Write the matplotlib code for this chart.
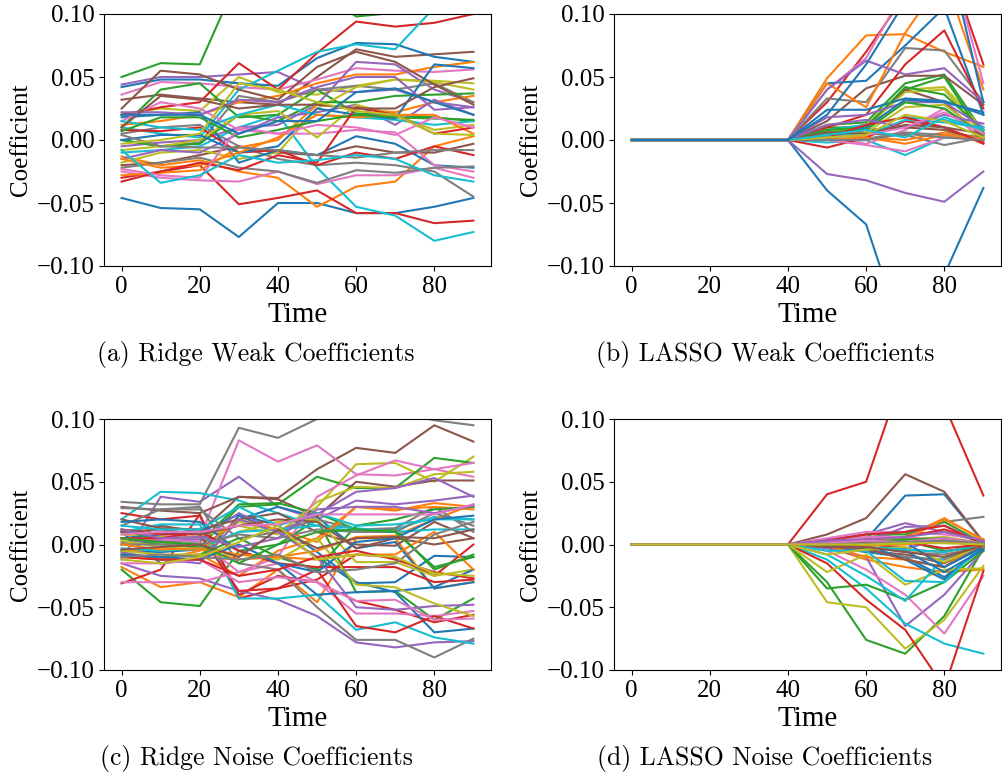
import numpy as np
import matplotlib
matplotlib.use("Agg")
import matplotlib.pyplot as plt

# coefficient paths recorded every 10 time steps
TIME = [0, 10, 20, 30, 40, 50, 60, 70, 80, 90]

RIDGE_WEAK = [
    [-0.046, -0.054, -0.055, -0.077, -0.050, -0.050, -0.058, -0.058, -0.053, -0.046],
    [-0.013, -0.020, -0.016, -0.025, -0.030, -0.053, -0.037, -0.033, -0.005, 0.003],
    [0.050, 0.061, 0.060, 0.130, 0.140, 0.120, 0.098, 0.101, 0.110, 0.120],
    [-0.030, -0.025, -0.020, -0.051, -0.046, -0.040, -0.058, -0.058, -0.066, -0.064],
    [0.044, 0.050, 0.050, 0.052, 0.054, 0.040, 0.038, 0.040, 0.030, 0.026],
    [0.032, 0.036, 0.033, 0.030, 0.028, 0.050, 0.072, 0.066, 0.068, 0.070],
    [0.036, 0.046, 0.045, 0.042, 0.040, 0.048, 0.057, 0.055, 0.054, 0.056],
    [0.005, 0.010, 0.012, -0.005, -0.015, -0.020, -0.018, -0.020, -0.025, -0.045],
    [0.020, 0.025, 0.023, 0.050, 0.038, 0.036, 0.043, 0.048, 0.047, 0.045],
    [-0.010, -0.008, -0.005, 0.010, 0.020, -0.022, -0.053, -0.060, -0.080, -0.073],
    [0.042, 0.048, 0.048, 0.045, 0.043, 0.065, 0.077, 0.076, 0.066, 0.062],
    [0.012, 0.015, 0.020, 0.030, 0.035, 0.045, 0.052, 0.052, 0.058, 0.062],
    [0.010, 0.040, 0.045, 0.018, 0.020, 0.040, 0.021, 0.020, 0.018, 0.015],
    [0.020, 0.026, 0.030, 0.061, 0.040, 0.069, 0.094, 0.090, 0.093, 0.100],
    [-0.005, -0.002, 0.000, 0.010, 0.012, 0.028, 0.062, 0.060, 0.040, 0.030],
    [-0.020, -0.018, -0.012, -0.005, -0.010, -0.012, -0.005, -0.010, -0.010, -0.003],
    [-0.025, -0.030, -0.032, -0.033, -0.025, -0.035, -0.028, -0.028, -0.022, -0.030],
    [0.000, -0.005, -0.002, 0.035, 0.030, 0.040, 0.043, 0.040, 0.045, 0.030],
    [-0.018, -0.010, -0.008, -0.015, -0.010, 0.025, 0.042, 0.048, 0.046, 0.040],
    [0.010, 0.005, 0.002, 0.040, 0.055, 0.070, 0.076, 0.072, 0.105, 0.115],
    [0.018, 0.020, 0.022, -0.018, -0.008, -0.012, 0.003, -0.003, -0.020, -0.022],
    [-0.028, -0.026, -0.024, -0.006, 0.000, 0.028, 0.025, 0.022, 0.030, 0.035],
    [0.000, -0.005, -0.003, 0.020, 0.015, 0.030, 0.030, 0.035, 0.036, 0.037],
    [0.008, 0.007, 0.010, -0.010, -0.008, -0.020, -0.010, -0.015, -0.005, -0.012],
    [-0.015, -0.008, -0.010, 0.005, 0.018, 0.022, 0.028, 0.012, 0.032, 0.020],
    [0.025, 0.055, 0.052, 0.040, 0.032, 0.058, 0.070, 0.062, 0.044, 0.028],
    [0.015, 0.030, 0.025, 0.008, 0.005, 0.005, 0.008, 0.006, -0.020, -0.025],
    [-0.022, -0.018, -0.014, -0.022, -0.025, -0.034, -0.024, -0.026, -0.022, -0.021],
    [-0.008, -0.005, 0.000, 0.020, 0.023, 0.002, 0.028, 0.020, 0.008, 0.012],
    [0.015, 0.010, 0.008, 0.020, 0.028, 0.020, 0.018, 0.016, 0.012, 0.015],
    [0.000, 0.004, 0.004, -0.010, -0.005, 0.025, 0.020, 0.017, 0.060, 0.057],
    [-0.015, -0.022, -0.020, -0.010, 0.002, 0.020, 0.018, 0.020, 0.020, 0.005],
    [0.007, 0.018, 0.018, 0.002, 0.008, 0.015, 0.020, 0.018, 0.017, 0.016],
    [-0.033, -0.025, -0.018, -0.024, -0.012, -0.018, 0.026, 0.020, 0.005, 0.010],
    [0.022, 0.022, 0.020, 0.032, 0.030, 0.042, 0.050, 0.050, 0.024, 0.026],
    [0.010, 0.035, 0.032, 0.025, 0.028, 0.028, 0.025, 0.025, 0.042, 0.049],
    [-0.023, -0.028, -0.030, 0.010, 0.005, 0.012, 0.010, 0.004, 0.018, 0.010],
    [0.004, -0.005, -0.006, -0.006, -0.008, -0.012, -0.014, -0.010, -0.008, -0.008],
    [-0.003, 0.000, 0.005, 0.045, 0.040, 0.030, 0.023, 0.020, 0.005, 0.004],
    [-0.008, -0.034, -0.028, -0.012, -0.018, -0.016, -0.012, -0.015, -0.028, -0.033],
    [0.020, 0.020, 0.020, 0.005, 0.015, 0.015, 0.038, 0.041, 0.030, 0.020],
]

RIDGE_NOISE = [
    [0.010, -0.015, -0.012, 0.023, 0.010, -0.010, -0.031, -0.030, -0.009, -0.010],
    [-0.018, -0.034, -0.030, -0.042, -0.020, -0.046, 0.005, 0.005, -0.035, -0.030],
    [-0.020, -0.046, -0.049, -0.005, 0.000, 0.020, -0.038, -0.037, -0.060, -0.043],
    [-0.031, -0.020, 0.024, -0.043, -0.035, -0.028, -0.008, -0.010, -0.025, 0.000],
    [-0.012, 0.038, 0.034, 0.054, 0.030, 0.020, 0.035, 0.032, 0.035, 0.039],
    [0.000, 0.015, 0.010, 0.038, 0.037, 0.060, 0.077, 0.073, 0.095, 0.082],
    [0.010, 0.005, 0.005, 0.083, 0.066, 0.079, 0.056, 0.055, 0.060, 0.054],
    [0.034, 0.032, 0.032, 0.093, 0.085, 0.100, 0.105, 0.105, 0.099, 0.095],
    [0.000, 0.002, -0.003, 0.018, 0.010, 0.030, 0.064, 0.065, 0.050, 0.070],
    [0.020, 0.042, 0.041, 0.035, 0.025, 0.015, 0.010, 0.012, 0.022, 0.020],
    [-0.005, -0.006, -0.004, 0.020, 0.030, 0.022, -0.003, 0.002, -0.035, -0.030],
    [-0.008, -0.010, -0.008, -0.025, -0.005, 0.005, 0.030, 0.027, 0.033, 0.030],
    [0.005, 0.000, -0.002, 0.030, 0.032, 0.054, 0.045, 0.045, 0.069, 0.065],
    [0.025, 0.020, 0.023, -0.040, -0.025, -0.030, -0.045, -0.052, -0.062, -0.056],
    [-0.015, -0.025, -0.027, -0.037, -0.044, -0.057, -0.078, -0.082, -0.078, -0.077],
    [0.030, 0.027, 0.025, 0.038, 0.036, 0.022, 0.050, 0.046, 0.051, 0.051],
    [-0.030, -0.030, -0.030, -0.022, -0.015, -0.030, -0.055, -0.055, -0.057, -0.053],
    [0.015, 0.028, 0.030, -0.015, -0.020, -0.050, -0.076, -0.076, -0.090, -0.075],
    [0.008, 0.006, 0.006, 0.015, 0.008, 0.034, 0.046, 0.045, 0.056, 0.058],
    [0.010, 0.016, 0.016, -0.043, -0.043, -0.040, -0.068, -0.062, -0.074, -0.079],
    [0.005, 0.008, 0.010, 0.024, 0.015, -0.006, -0.030, -0.038, -0.070, -0.067],
    [-0.005, -0.004, -0.004, -0.012, -0.010, -0.005, 0.006, 0.007, 0.020, 0.032],
    [0.012, 0.003, 0.002, 0.032, 0.033, 0.025, 0.012, 0.012, -0.020, -0.008],
    [0.012, 0.008, 0.008, -0.037, -0.035, -0.020, -0.065, -0.070, -0.057, -0.067],
    [0.002, 0.003, 0.004, 0.025, 0.010, 0.024, 0.042, 0.045, 0.053, 0.038],
    [0.020, 0.013, 0.012, 0.020, 0.025, 0.010, 0.000, -0.001, 0.018, 0.005],
    [0.005, 0.004, 0.002, -0.022, -0.010, 0.038, 0.055, 0.067, 0.060, 0.065],
    [0.029, 0.028, 0.028, 0.005, 0.010, 0.020, 0.012, 0.013, 0.030, 0.010],
    [0.003, -0.002, -0.004, 0.010, 0.018, 0.020, -0.014, -0.014, -0.025, -0.020],
    [-0.003, -0.005, -0.003, 0.010, 0.012, 0.015, 0.013, 0.010, 0.012, 0.012],
    [0.018, 0.020, 0.018, -0.005, -0.015, -0.040, -0.038, -0.037, -0.034, -0.020],
    [-0.010, -0.012, -0.005, 0.020, 0.012, 0.002, 0.030, 0.028, 0.030, 0.028],
    [-0.008, -0.010, -0.008, 0.005, -0.010, -0.020, 0.015, 0.020, 0.028, 0.030],
    [0.005, 0.005, 0.010, -0.005, -0.015, -0.018, -0.018, -0.018, -0.030, -0.028],
    [-0.006, -0.012, -0.015, 0.020, 0.010, -0.010, -0.050, -0.052, -0.049, -0.048],
    [0.010, 0.012, 0.008, 0.015, 0.020, 0.018, -0.003, 0.005, 0.000, 0.005],
    [-0.015, -0.015, -0.012, -0.030, -0.026, -0.030, -0.045, -0.044, -0.060, -0.059],
    [0.000, 0.000, 0.000, 0.008, 0.005, 0.012, 0.010, 0.010, 0.025, 0.015],
    [-0.005, -0.008, -0.008, -0.008, -0.012, 0.005, -0.032, -0.034, -0.047, -0.057],
    [0.015, 0.012, 0.012, 0.030, 0.015, 0.025, 0.015, 0.016, 0.020, 0.020],
    [-0.008, -0.010, -0.012, 0.000, -0.015, -0.022, 0.002, 0.005, 0.020, 0.023],
    [0.000, -0.004, -0.003, -0.008, -0.010, -0.012, -0.008, -0.008, 0.010, -0.020],
    [0.005, 0.002, 0.000, -0.015, 0.000, 0.010, 0.012, 0.010, -0.018, -0.010],
    [-0.010, -0.012, -0.012, -0.025, -0.020, -0.010, -0.005, -0.012, -0.022, -0.027],
    [0.012, 0.005, 0.006, -0.002, 0.005, 0.028, 0.030, 0.030, 0.025, 0.031],
    [-0.004, -0.002, 0.000, -0.010, 0.012, -0.003, 0.005, 0.006, 0.005, 0.012],
    [0.008, 0.010, 0.010, 0.015, 0.016, 0.024, 0.024, 0.024, 0.024, 0.032],
    [-0.010, -0.008, -0.010, -0.012, -0.008, -0.022, -0.020, -0.015, 0.008, 0.018],
    [-0.012, -0.015, -0.010, 0.002, 0.015, -0.012, -0.008, -0.010, -0.023, -0.025],
]

# LASSO keeps every coefficient at exactly zero up to t = 40;
# only the values for t = 50 .. 90 are listed here
LASSO_ZERO_STEPS = 5

LASSO_WEAK_TAIL = [
    [-0.040, -0.067, -0.161, -0.107, -0.038],
    [0.049, 0.083, 0.084, 0.070, 0.058],
    [0.012, 0.014, 0.045, 0.052, 0.006],
    [0.030, 0.070, 0.115, 0.150, 0.060],
    [-0.027, -0.032, -0.042, -0.049, -0.025],
    [0.015, 0.041, 0.051, 0.051, 0.028],
    [0.040, 0.065, 0.120, 0.160, 0.045],
    [0.033, 0.030, 0.073, 0.071, 0.030],
    [0.008, 0.012, 0.040, 0.042, 0.008],
    [-0.002, 0.000, -0.012, 0.002, 0.004],
    [0.045, 0.047, 0.075, 0.105, 0.020],
    [0.045, 0.026, 0.085, 0.130, 0.040],
    [0.010, 0.010, 0.040, 0.050, 0.002],
    [0.010, 0.020, 0.060, 0.087, 0.025],
    [0.040, 0.063, 0.052, 0.057, 0.030],
    [0.003, 0.010, 0.040, 0.030, 0.002],
    [0.002, -0.003, 0.008, 0.025, 0.000],
    [0.002, 0.005, 0.004, -0.004, 0.002],
    [0.006, 0.010, 0.038, 0.040, 0.004],
    [0.008, 0.012, 0.018, 0.016, 0.008],
    [0.024, 0.024, 0.033, 0.031, 0.020],
    [0.004, 0.002, 0.000, 0.006, 0.002],
    [0.008, 0.010, 0.042, 0.036, 0.008],
    [-0.006, 0.002, 0.015, 0.010, -0.003],
    [0.018, 0.020, 0.030, 0.030, 0.010],
    [0.003, 0.008, 0.010, 0.008, 0.000],
    [0.000, -0.004, -0.009, 0.002, 0.001],
    [0.001, 0.001, 0.006, 0.004, 0.002],
    [0.004, 0.006, 0.026, 0.028, 0.005],
    [0.005, 0.004, 0.016, 0.014, 0.010],
    [0.002, 0.010, 0.032, 0.030, 0.022],
    [0.000, 0.002, -0.003, 0.004, 0.001],
    [0.006, 0.008, 0.030, 0.025, 0.004],
    [0.002, 0.012, 0.018, 0.010, -0.002],
    [0.012, 0.016, 0.010, 0.020, 0.013],
    [0.006, 0.005, 0.012, 0.010, 0.005],
    [0.002, 0.004, 0.010, 0.022, 0.005],
    [0.000, 0.000, 0.005, 0.002, 0.000],
    [0.002, 0.004, 0.020, 0.015, 0.002],
    [0.004, 0.008, 0.002, 0.018, 0.008],
    [0.020, 0.060, 0.110, 0.160, 0.030],
]

LASSO_NOISE_TAIL = [
    [0.003, 0.004, 0.039, 0.040, 0.002],
    [-0.002, -0.012, -0.018, -0.022, -0.020],
    [-0.030, -0.076, -0.087, -0.057, -0.003],
    [0.040, 0.050, 0.141, 0.111, 0.039],
    [-0.003, -0.010, -0.065, -0.040, -0.005],
    [0.008, 0.021, 0.056, 0.042, 0.002],
    [-0.005, -0.020, -0.040, -0.071, -0.025],
    [0.002, 0.005, 0.010, 0.018, 0.022],
    [-0.046, -0.050, -0.083, -0.060, -0.017],
    [-0.012, -0.035, -0.063, -0.079, -0.087],
    [-0.002, -0.006, -0.010, -0.026, -0.003],
    [0.002, 0.003, 0.006, 0.021, 0.003],
    [-0.035, -0.032, -0.044, -0.030, -0.005],
    [-0.015, -0.044, -0.068, -0.114, -0.021],
    [0.004, 0.008, 0.017, 0.010, 0.002],
    [0.001, -0.005, -0.008, -0.015, 0.000],
    [0.005, 0.010, 0.010, 0.008, 0.004],
    [-0.002, -0.004, -0.010, -0.012, 0.000],
    [-0.022, -0.008, -0.032, -0.020, -0.019],
    [-0.008, -0.025, -0.045, -0.010, 0.000],
    [0.002, 0.000, -0.012, -0.028, -0.001],
    [-0.001, -0.010, -0.012, -0.018, 0.004],
    [0.002, 0.008, 0.008, 0.018, 0.001],
    [0.001, 0.004, 0.006, 0.012, 0.002],
    [0.002, 0.002, 0.014, 0.015, 0.001],
    [-0.002, -0.003, -0.012, -0.018, -0.001],
    [0.000, 0.006, 0.005, 0.002, 0.000],
    [0.000, -0.002, -0.006, -0.008, -0.002],
    [0.001, 0.002, 0.004, 0.006, 0.001],
    [-0.005, -0.005, -0.029, -0.030, 0.000],
    [0.001, 0.002, -0.005, -0.022, -0.004],
    [0.000, 0.001, 0.004, 0.020, 0.004],
    [-0.001, 0.000, 0.003, -0.005, -0.002],
    [0.003, 0.008, 0.010, 0.015, 0.000],
    [0.000, 0.002, -0.003, 0.004, 0.000],
    [0.000, 0.001, -0.004, -0.006, 0.000],
    [0.002, 0.006, 0.006, 0.003, 0.001],
    [0.000, 0.000, 0.001, 0.002, 0.000],
    [-0.008, -0.004, -0.002, -0.014, 0.000],
    [0.000, -0.002, -0.004, -0.006, 0.000],
    [0.000, 0.003, 0.002, -0.018, -0.002],
    [-0.001, -0.001, 0.000, 0.003, -0.002],
    [0.001, 0.002, 0.004, 0.005, 0.001],
    [-0.001, 0.001, 0.002, -0.003, 0.000],
    [0.003, 0.004, 0.006, 0.010, 0.003],
    [-0.001, -0.002, -0.006, -0.010, -0.001],
    [0.001, 0.003, 0.002, 0.005, 0.001],
    [0.000, 0.001, 0.002, 0.003, 0.001],
    [0.000, 0.000, 0.001, 0.001, 0.000],
]

CAPTIONS = [
    "(a) Ridge Weak Coefficients",
    "(b) LASSO Weak Coefficients",
    "(c) Ridge Noise Coefficients",
    "(d) LASSO Noise Coefficients",
]


def lasso_paths(tail):
    return [[0.0] * LASSO_ZERO_STEPS + row for row in tail]


PANELS = [
    RIDGE_WEAK,
    lasso_paths(LASSO_WEAK_TAIL),
    RIDGE_NOISE,
    lasso_paths(LASSO_NOISE_TAIL),
]

SERIF = "Liberation Serif"

W, H = 1002, 776
fig = plt.figure(figsize=(W / 100, H / 100), dpi=100)

# axes boxes in pixels: left, top, right, bottom
boxes = [(104, 14, 491, 266), (614, 14, 1001, 266),
         (104, 419, 491, 670), (614, 419, 1001, 670)]
caption_xy = [(256, 355), (765, 355), (256, 758), (765, 758)]

for paths, box, cap, cxy in zip(PANELS, boxes, CAPTIONS, caption_xy):
    l, t, r, b = box
    ax = fig.add_axes([l / W, 1 - b / H, (r - l) / W, (b - t) / H])
    for row in paths:
        ax.plot(TIME, row, linewidth=1.5)
    ax.set_ylim(-0.1, 0.1)
    ax.set_yticks([-0.10, -0.05, 0.00, 0.05, 0.10])
    ax.set_xticks([0, 20, 40, 60, 80])
    for lbl in ax.get_xticklabels() + ax.get_yticklabels():
        lbl.set_fontfamily(SERIF)
        lbl.set_fontsize(18)
    ax.set_xlabel("Time", fontfamily=SERIF, fontsize=21, labelpad=3)
    ax.set_ylabel("Coefficient", fontfamily=SERIF, fontsize=18, labelpad=3)
    fig.text(cxy[0] / W, 1 - cxy[1] / H, cap, ha="center", va="center",
             fontfamily="cmr10", fontsize=18.5)

fig.savefig("out.png", dpi=100, facecolor="white")
